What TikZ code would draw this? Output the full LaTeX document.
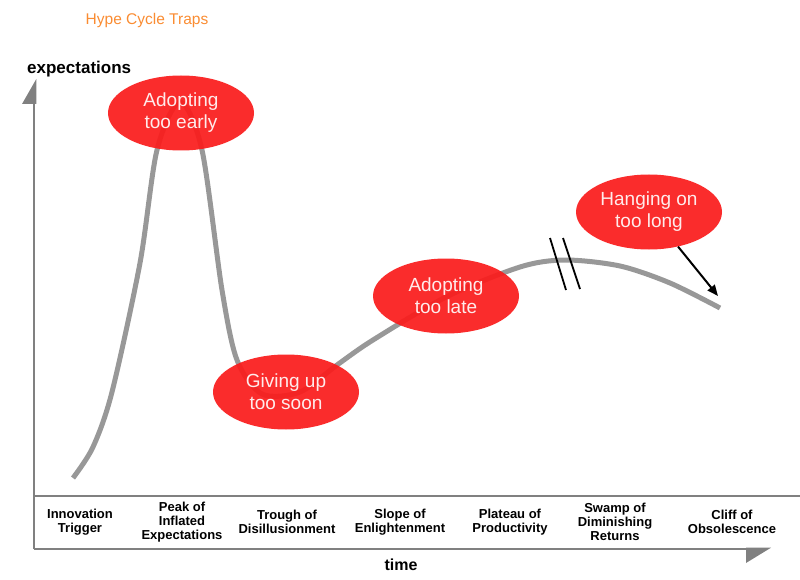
\documentclass[tikz,border=0pt]{standalone}
\usepackage{fontspec}
\setmainfont{Liberation Sans}
\usetikzlibrary{shapes.geometric,arrows.meta}
\definecolor{trapred}{RGB}{250,28,28}
\definecolor{axisgray}{RGB}{128,128,128}
\definecolor{curvegray}{RGB}{152,152,152}
\definecolor{titleorange}{RGB}{250,140,50}
\definecolor{trapwhite}{RGB}{255,235,235}
\tikzset{
  trap/.style={ellipse, fill=trapred, fill opacity=0.93, text opacity=1,
    minimum width=146pt, minimum height=75pt, inner sep=0pt,
    text=trapwhite, align=center, font=\fontsize{19}{22}\selectfont},
  phase/.style={align=center, font=\fontsize{13}{14}\selectfont\bfseries, inner sep=0pt},
  axisline/.style={draw=axisgray, line width=2.6pt},
  hype/.style={draw=curvegray, line width=5pt},
  breakmark/.style={draw=black, line width=1.8pt},
  pointer/.style={draw=black, line width=2pt, -{Triangle[length=11pt,width=9pt]}}
}
\begin{document}
\begin{tikzpicture}[x=1pt,y=-1pt]
\useasboundingbox (0,0) rectangle (800,580);
% title and axis labels
\node[text=titleorange, font=\fontsize{15.5}{18}\selectfont] (title) at (147,20) {Hype Cycle Traps};
\node[font=\fontsize{17}{19}\selectfont\bfseries, anchor=west, inner sep=0pt] (ylab) at (27,69) {expectations};
\node[font=\fontsize{16}{19}\selectfont\bfseries] (xlab) at (401,565) {time};
% axes
\draw[axisline] (34,549) -- (34,100);
\fill[axisgray] (22,104) -- (36.3,104) -- (36.3,79) -- cycle;
\draw[axisline] (34,549) -- (748,549);
\fill[axisgray] (746,547.7) -- (771,547.7) -- (746,563) -- cycle;
\draw[axisline] (34,496) -- (800,496);
% hype curve
\draw[hype] plot[smooth, tension=0.5] coordinates {
  (73,478) (93,447) (112,392) (140,263) (157,150) (180,102) (202,150)
  (222,290) (237,360) (262,394) (300,392) (337,365) (373,340) (446,297)
  (520,267) (565,260) (620,266) (670,283) (720,308)};
% break marks
\draw[breakmark] (550,238) -- (566,290);
\draw[breakmark] (563,238) -- (580,289);
% traps
\node[trap] (early) at (181,113) {Adopting\\too early};
\node[trap] (soon) at (286,392) {Giving up\\too soon};
\node[trap] (late) at (446,296) {Adopting\\too late};
\node[trap] (long) at (649,212) {Hanging on\\too long};
\coordinate (longtip) at (718,296);
\draw[pointer] (long.-50) -- (longtip);
% phases
\node[phase] (p1) at (80,522) {Innovation\\Trigger};
\node[phase] (p2) at (182,522) {Peak of\\Inflated\\Expectations};
\node[phase] (p3) at (287,522) {Trough of\\Disillusionment};
\node[phase] (p4) at (400,522) {Slope of\\Enlightenment};
\node[phase] (p5) at (510,522) {Plateau of\\Productivity};
\node[phase] (p6) at (615,522) {Swamp of\\Diminishing\\Returns};
\node[phase] (p7) at (732,522) {Cliff of\\Obsolescence};
\end{tikzpicture}
\end{document}
